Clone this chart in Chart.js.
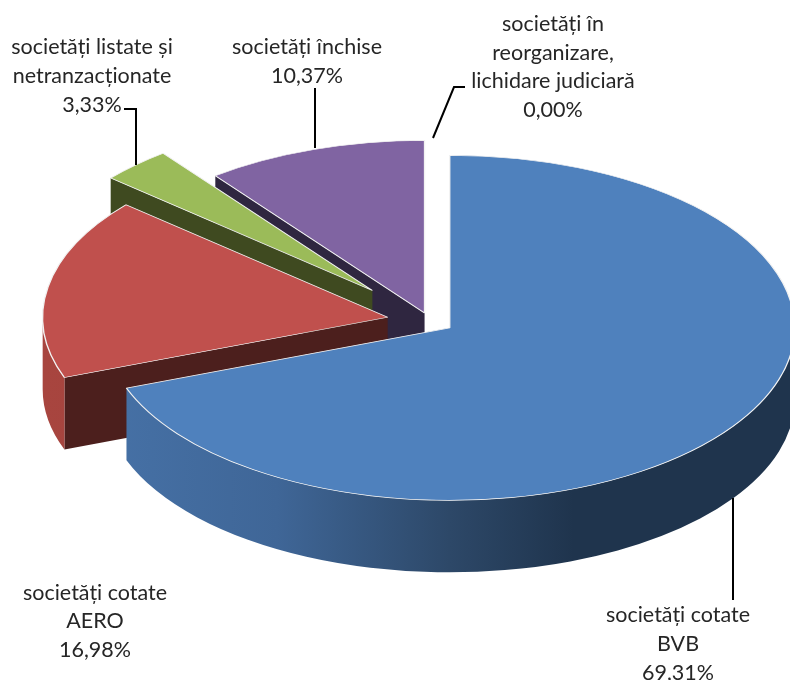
<!DOCTYPE html>
<html>
<head>
<meta charset="utf-8">
<script src="https://cdn.jsdelivr.net/npm/chart.js@4"></script>
<style>
html,body{margin:0;padding:0;background:#fff;overflow:hidden}
canvas{display:block}
</style>
</head>
<body>
<canvas id="c" width="790" height="680"></canvas>
<script>
// Data
const categories = [
  ['societăți cotate', 'BVB'],
  ['societăți cotate', 'AERO'],
  ['societăți listate și', 'netranzacționate'],
  ['societăți închise'],
  ['societăți în', 'reorganizare,', 'lichidare judiciară']
];
const values = [69.31, 16.98, 3.33, 10.37, 0.00];

// Styles
const topColors = ['#4F81BD', '#C0504D', '#9BBB59', '#8064A2', '#F79646'];
const faceColors = ['#1F344D', '#4C1F1D', '#3F4A20', '#2F2640', '#000000'];
const wallStops = [
  [[0, '#4671A6'], [0.25, '#3F6697'], [0.5, '#2D4868'], [0.68, '#1F344D'], [1, '#1F344D']],
  [[0, '#A8453F'], [1, '#8A3A36']],
  [[0, '#7C9647'], [1, '#3F4A20']],
  [[0, '#66508A'], [1, '#2F2640']],
  [[0, '#000000'], [1, '#000000']]
];
const explode = [24, 43, 84, 17, 0];
const paintOrder = [3, 2, 1, 0];
const squash = 0.5;
const depth = 72;
const labelPos = [
  {x: 678, y: 615, lh: 29},
  {x: 95, y: 593, lh: 28.5},
  {x: 92, y: 47, lh: 29},
  {x: 307, y: 47, lh: 29},
  {x: 553, y: 24, lh: 28.7}
];
const leaders = [
  [[733, 498], [733, 600]],
  [],
  [[124, 109], [136, 109], [136, 165]],
  [[315, 88], [315, 148]],
  [[465, 87], [454, 87], [433, 138]]
];

function clampFront(a0, a1) {
  const s = Math.max(a0, 0), e = Math.min(a1, Math.PI);
  return e > s ? [s, e] : null;
}

const pie3d = {
  id: 'pie3d',
  beforeDatasetsDraw(chart) {
    const ctx = chart.ctx;
    const arcs = chart.getDatasetMeta(0).data;
    const d = depth / squash;
    paintOrder.forEach(i => {
      const el = arcs[i];
      const R = el.outerRadius, a0 = el.startAngle, a1 = el.endAngle;
      const half = (a0 + a1) / 2;
      ctx.save();
      ctx.translate(el.x, el.y);
      ctx.scale(1, squash);
      ctx.translate(Math.cos(half) * explode[i], Math.sin(half) * explode[i]);

      // radial cut faces that look towards the viewer
      ctx.fillStyle = faceColors[i];
      [[a0, Math.cos(a0) < -1e-6], [a1, Math.cos(a1) > 1e-6]].forEach(([a, visible]) => {
        if (!visible) return;
        ctx.beginPath();
        ctx.moveTo(0, 0);
        ctx.lineTo(Math.cos(a) * R, Math.sin(a) * R);
        ctx.lineTo(Math.cos(a) * R, Math.sin(a) * R + d);
        ctx.lineTo(0, d);
        ctx.closePath();
        ctx.fill();
      });

      // outer wall, front half of the rim only
      const front = clampFront(a0, a1);
      if (front) {
        const g = ctx.createLinearGradient(-R, 0, R, 0);
        wallStops[i].forEach(([p, c]) => g.addColorStop(p, c));
        ctx.fillStyle = g;
        ctx.beginPath();
        ctx.arc(0, 0, R, front[0], front[1]);
        ctx.arc(0, d, R, front[1], front[0], true);
        ctx.closePath();
        ctx.fill();
      }

      // library's own arc draws the top face
      ctx.translate(-el.x, -el.y);
      el.draw(ctx);
      ctx.restore();
    });
    return false;
  },
  afterDraw(chart) {
    const ctx = chart.ctx;
    ctx.save();
    ctx.strokeStyle = '#000';
    ctx.lineWidth = 2;
    ctx.lineJoin = 'miter';
    leaders.forEach(pts => {
      if (!pts.length) return;
      ctx.beginPath();
      pts.forEach(([x, y], j) => j ? ctx.lineTo(x, y) : ctx.moveTo(x, y));
      ctx.stroke();
    });
    ctx.fillStyle = '#262626';
    ctx.font = '21.5px Lato';
    ctx.textAlign = 'center';
    ctx.textBaseline = 'middle';
    categories.forEach((lines, i) => {
      const pct = values[i].toFixed(2).replace('.', ',') + '%';
      const p = labelPos[i];
      [...lines, pct].forEach((t, j) => ctx.fillText(t, p.x, p.y + j * p.lh));
    });
    ctx.restore();
  }
};

new Chart(document.getElementById('c'), {
  type: 'pie',
  data: {
    labels: categories.map(l => l.join(' ')),
    datasets: [{
      data: values,
      backgroundColor: topColors,
      borderColor: '#F2F2F2',
      borderWidth: 1.4,
      radius: 345
    }]
  },
  options: {
    responsive: false,
    animation: false,
    devicePixelRatio: 1,
    layout: {padding: {left: 70, bottom: 38}},
    plugins: {legend: {display: false}, tooltip: {enabled: false}}
  },
  plugins: [pie3d]
});
</script>
</body>
</html>
